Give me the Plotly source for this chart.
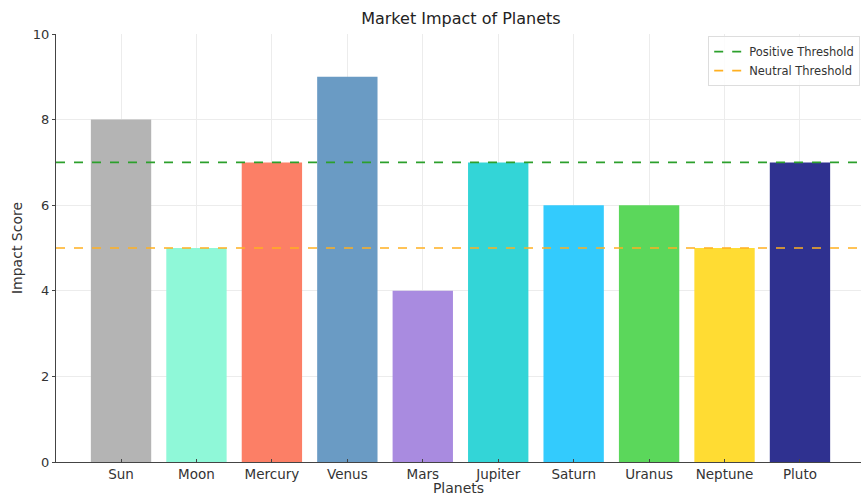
import plotly.graph_objects as go

planets = ["Sun", "Moon", "Mercury", "Venus", "Mars", "Jupiter", "Saturn", "Uranus", "Neptune", "Pluto"]
scores = [8, 5, 7, 9, 4, 7, 6, 6, 5, 7]
bar_colors = ["#b4b4b4", "#8ff8d8", "#fc7f66", "#6a9bc4", "#a98be0",
              "#33d5d7", "#33cbfd", "#5bd75b", "#ffdc33", "#2f3190"]
threshold_names = ["Positive Threshold", "Neutral Threshold"]
threshold_values = [7, 5]
threshold_colors = ["#2ca02c", "#ffb020"]

font_family = "DejaVu Sans"
text_color = "#333333"

fig = go.Figure()
fig.add_trace(go.Bar(
    x=list(range(len(planets))), y=scores, marker_color=bar_colors,
    marker_line_width=0, width=0.8, showlegend=False,
))

for name, val, col in zip(threshold_names, threshold_values, threshold_colors):
    fig.add_shape(type="line", xref="x domain", yref="y", x0=0, x1=1, y0=val, y1=val,
                  line=dict(color=col, width=1.6, dash="dash"), layer="above")
    fig.add_trace(go.Scatter(x=[None], y=[None], mode="lines", name=name,
                             line=dict(color=col, width=1.6, dash="dash")))

fig.update_layout(
    width=861, height=496,
    margin=dict(l=56, r=0, t=34, b=34),
    paper_bgcolor="white", plot_bgcolor="white",
    font=dict(family=font_family, color=text_color, size=13),
    title=dict(text="Market Impact of Planets", x=0.503, xref="paper", xanchor="center",
               y=0.962, yanchor="middle", font=dict(size=16, color="#222222")),
    legend=dict(x=0.999, y=0.995, xanchor="right", yanchor="top",
                bgcolor="rgba(255,255,255,0.85)", bordercolor="#dddddd", borderwidth=1,
                font=dict(size=11.5, color="#333333"), itemwidth=30, tracegroupgap=0),
    xaxis=dict(
        tickmode="array", tickvals=list(range(len(planets))), ticktext=planets,
        range=[-0.862, 9.809], showgrid=True, gridcolor="#ececec", gridwidth=1,
        showline=True, linecolor="#444444", linewidth=1.2,
        ticks="inside", ticklen=3, tickcolor="#444444",
        title=dict(text="Planets", standoff=2, font=dict(size=14)),
        zeroline=False, tickfont=dict(size=13.5),
    ),
    yaxis=dict(
        range=[0, 10], tickvals=[0, 2, 4, 6, 8, 10],
        showgrid=True, gridcolor="#ececec", gridwidth=1,
        showline=True, linecolor="#444444", linewidth=1.2,
        ticks="outside", ticklen=3, tickcolor="#444444",
        title=dict(text="Impact Score", standoff=6, font=dict(size=14)),
        zeroline=False, tickfont=dict(size=13),
    ),
    bargap=0.2,
)

fig.write_html("out.html")
